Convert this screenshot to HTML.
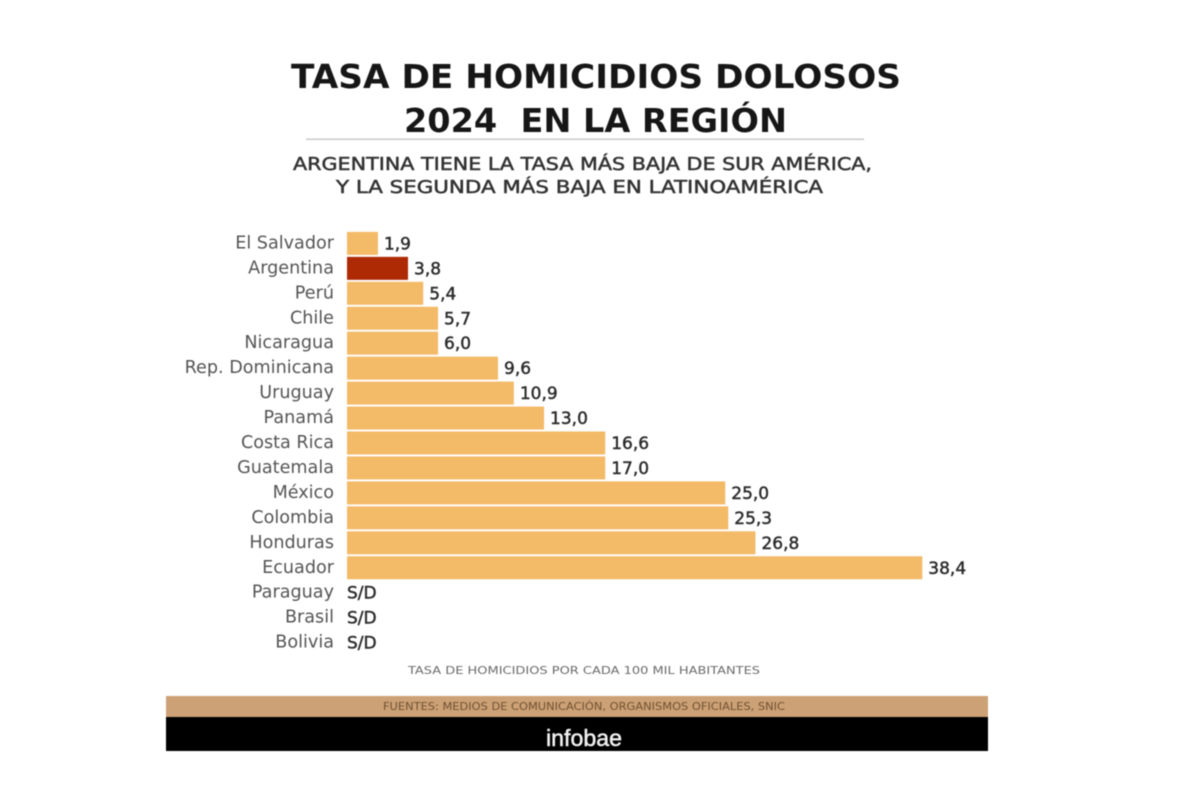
<!DOCTYPE html>
<html lang="es">
<head>
<meta charset="utf-8">
<title>Tasa de homicidios dolosos 2024 en la región</title>
<style>
html,body{margin:0;padding:0;background:#fff;width:1200px;height:800px;overflow:hidden}
svg{display:block;filter:blur(0.55px)}
text{font-family:"DejaVu Sans","Liberation Sans",sans-serif}
.cat{font-size:17.6px;fill:#555;text-anchor:end}
.val{font-size:17px;font-weight:400;fill:#2b2b2b;stroke:#2b2b2b;stroke-width:0.45px}
</style>
</head>
<body>
<svg id="chart" width="1200" height="800" viewBox="0 0 1200 800" xmlns="http://www.w3.org/2000/svg">
  <rect x="0" y="0" width="1200" height="800" fill="#fff"/>
  <text x="291" y="88" font-size="33" font-weight="700" fill="#161616" textLength="610" lengthAdjust="spacingAndGlyphs">TASA DE HOMICIDIOS DOLOSOS</text>
  <text x="404" y="132" font-size="33" font-weight="700" fill="#161616" textLength="383" lengthAdjust="spacingAndGlyphs" xml:space="preserve">2024  EN LA REGIÓN</text>
  <rect x="306" y="138.5" width="558" height="1.5" fill="#c8c8c8"/>
  <text x="293" y="170" font-size="17.5" font-weight="400" fill="#333" stroke="#333" stroke-width="0.5" textLength="579" lengthAdjust="spacingAndGlyphs">ARGENTINA TIENE LA TASA MÁS BAJA DE SUR AMÉRICA,</text>
  <text x="336" y="193" font-size="17.5" font-weight="400" fill="#333" stroke="#333" stroke-width="0.5" textLength="487" lengthAdjust="spacingAndGlyphs">Y LA SEGUNDA MÁS BAJA EN LATINOAMÉRICA</text>
  <g id="plot"></g>
  <text x="408" y="674" font-size="11" fill="#6a6a6a" textLength="352" lengthAdjust="spacingAndGlyphs">TASA DE HOMICIDIOS POR CADA 100 MIL HABITANTES</text>
  <rect x="166" y="696" width="822" height="21" fill="#cda176"/>
  <text x="383" y="710" font-size="10.5" fill="#6e5232" textLength="402" lengthAdjust="spacingAndGlyphs">FUENTES: MEDIOS DE COMUNICACIÓN, ORGANISMOS OFICIALES, SNIC</text>
  <rect x="166" y="717" width="822" height="34" fill="#000"/>
  <text x="546" y="746" font-size="23" fill="#f2f2f2" stroke="#f2f2f2" stroke-width="0.5" textLength="76" lengthAdjust="spacingAndGlyphs" style="font-family:'Liberation Sans',sans-serif">infobae</text>
</svg>
<script>
const categories = ["El Salvador","Argentina","Perú","Chile","Nicaragua","Rep. Dominicana","Uruguay","Panamá","Costa Rica","Guatemala","México","Colombia","Honduras","Ecuador","Paraguay","Brasil","Bolivia"];
// Bar lengths as actually drawn in the picture, read in axis units (null = no data)
const drawnValues = [2.05,4.04,5.05,6.03,6.03,10.0,11.05,13.05,17.1,17.1,25.05,25.25,27.05,38.1,null,null,null];
// Values printed beside the bars
const printedValues = ["1,9","3,8","5,4","5,7","6,0","9,6","10,9","13,0","16,6","17,0","25,0","25,3","26,8","38,4","S/D","S/D","S/D"];
const highlighted = ["Argentina"];

const NS = "http://www.w3.org/2000/svg";
const plot = document.getElementById("plot");
const xAxis = v => 347 + v * 15.1;
const yAxis = i => 243.4 + i * 24.95;
const BAR_H = 23;

function svgEl(tag){ return document.createElementNS(NS, tag); }

categories.forEach((name, i) => {
  const cy = yAxis(i);
  const label = svgEl("text");
  
  
  label.setAttribute("class", "cat");
  label.setAttribute("x", 334);
  label.setAttribute("y", cy + 5);
  label.textContent = name;
  plot.appendChild(label);

  const v = drawnValues[i];
  let endX = 341;
  if (v !== null) {
    const bar = svgEl("rect");
    
    
    bar.setAttribute("x", xAxis(0));
    bar.setAttribute("y", cy - BAR_H / 2);
    bar.setAttribute("width", xAxis(v) - xAxis(0));
    bar.setAttribute("height", BAR_H);
    bar.setAttribute("fill", highlighted.includes(name) ? "#ae2a05" : "#f3ba68");
    plot.appendChild(bar);
    endX = xAxis(v);
  } else {
    endX = xAxis(0) - 6;
  }
  const val = svgEl("text");
  
  
  val.setAttribute("class", "val");
  val.setAttribute("x", endX + 6);
  val.setAttribute("y", cy + 6);
  val.textContent = printedValues[i];
  plot.appendChild(val);
});
</script>
</body>
</html>
